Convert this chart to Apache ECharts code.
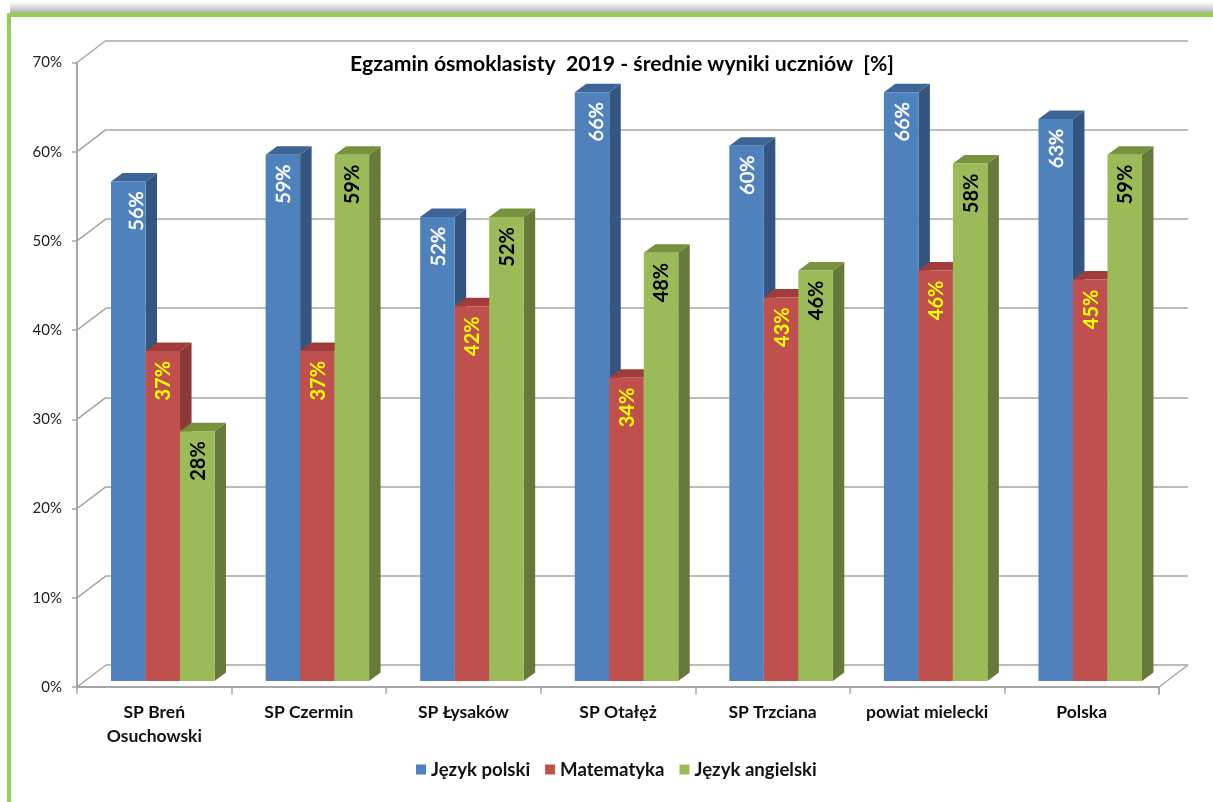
<!DOCTYPE html>
<html><head><meta charset="utf-8">
<script src="https://cdn.jsdelivr.net/npm/echarts@6/dist/echarts.min.js"></script>
<style>html,body{margin:0;padding:0;background:#fff}#c{width:1213px;height:802px}</style>
</head><body><div id="c"></div>
<script>
const categories = ['SP Breń\nOsuchowski','SP Czermin','SP Łysaków','SP Otałęż','SP Trzciana','powiat mielecki','Polska'];
const polski = [56,59,52,66,60,66,63];
const matematyka = [37,37,42,34,43,46,45];
const angielski = [28,59,52,48,46,58,59];
const yTicks = [0,10,20,30,40,50,60,70];
const titleText = 'Egzamin ósmoklasisty  2019 - średnie wyniki uczniów  [%]';
const FONT = 'Lato';

const backDX = 29, backDY = 22, barW = 34.5, sideDX = 11.5, sideDY = 8.5;
const faces = [
  {front:'#4f81bd', side:'#34557f', top:'#3c6494', text:'#ffffff', weight:'normal', stroke:0.5},
  {front:'#c0504d', side:'#8c3836', top:'#a03c3a', text:'#ffff00', weight:'bold', stroke:0},
  {front:'#9bbb59', side:'#667a3a', top:'#76923c', text:'#000000', weight:'bold', stroke:0}
];
const labelNudge = {'0-0':7, '0-3':4};

function barRenderer(idx){
  return function(params, api){
    const p = api.coord([api.value(0), api.value(1)]);
    const base = api.coord([api.value(0), 0]);
    const x = p[0] - barW*1.5 + idx*barW, y = p[1], b = base[1], f = faces[idx];
    const nudge = labelNudge[idx+'-'+api.value(0)] || 0;
    return {type:'group', children:[
      {type:'polygon', shape:{points:[[x+barW,y],[x+barW+sideDX,y-sideDY],[x+barW+sideDX,b-sideDY],[x+barW,b]]}, style:{fill:f.side}},
      {type:'polygon', shape:{points:[[x,y],[x+sideDX,y-sideDY],[x+barW+sideDX,y-sideDY],[x+barW,y]]}, style:{fill:f.top}},
      {type:'rect', shape:{x:x,y:y,width:barW,height:b-y}, style:{fill:f.front}},
      {type:'text', x:x+barW/2+1+nudge, y:y+10, rotation:Math.PI/2, z2:5,
       style:{text:api.value(1)+'%', fill:f.text, stroke:f.stroke?f.text:null, lineWidth:f.stroke, font:f.weight+' 20px '+FONT, align:'right', verticalAlign:'middle'}}
    ]};
  };
}
function barSeries(name, data, idx){
  return {type:'custom', name, xAxisIndex:2, yAxisIndex:2, itemStyle:{color:faces[idx].front},
    data:data.map((v,i)=>[i,v]), renderItem:barRenderer(idx), encode:{x:0,y:1}, z:5, clip:false};
}
const grid = (l,t)=>({left:l, top:t, width:1082, height:624.5});
const option = {
  animation:false,
  backgroundColor:'#fff',
  title:{text:titleText, left:617, top:49, textAlign:'center', textStyle:{fontFamily:FONT,fontWeight:'bold',fontSize:21.2,color:'#000'}},
  legend:{bottom:18, itemWidth:10, itemHeight:10, itemGap:15, icon:'rect', selectedMode:false,
    left:411, textStyle:{fontFamily:FONT,fontWeight:'bold',fontSize:18.6,color:'#111'}},
  grid:[grid(77,62.5), grid(77+backDX,62.5-backDY), grid(85.5,56.5)],
  xAxis:[
    {gridIndex:0,type:'category',data:categories,
      axisLine:{show:true,lineStyle:{color:'#a6a6a6',width:2}},
      axisTick:{show:true,length:7,interval:0,alignWithLabel:false,lineStyle:{color:'#a6a6a6',width:1.5}},
      axisLabel:{interval:0,hideOverlap:false,fontFamily:FONT,fontWeight:'bold',fontSize:17.5,color:'#111',margin:13,lineHeight:24,verticalAlign:'top'}},
    {gridIndex:1,type:'category',data:categories,axisLine:{show:false},axisTick:{show:false},axisLabel:{show:false}},
    {gridIndex:2,type:'category',data:categories,axisLine:{show:false},axisTick:{show:false},axisLabel:{show:false}}
  ],
  yAxis:[
    {gridIndex:0,type:'value',min:0,max:70,interval:10,splitLine:{show:false},
      axisLine:{show:true,lineStyle:{color:'#a6a6a6',width:2}},
      axisTick:{show:true,length:5,lineStyle:{color:'#a6a6a6',width:1.5}},
      axisLabel:{formatter:'{value}%',fontFamily:FONT,fontSize:15,color:'#222',margin:15,padding:[4,0,0,0]}},
    {gridIndex:1,type:'value',min:0,max:70,interval:10,axisLine:{show:false},axisTick:{show:false},axisLabel:{show:false},
      splitLine:{show:true,lineStyle:{color:'#a6a6a6',width:1.5}}},
    {gridIndex:2,type:'value',min:0,max:70,interval:10,axisLine:{show:false},axisTick:{show:false},axisLabel:{show:false},splitLine:{show:false}}
  ],
  series:[
    {type:'custom',silent:true,xAxisIndex:0,yAxisIndex:0,z:1,clip:false,data:yTicks.map(v=>[0,v]),encode:{x:0,y:1},
      legendHoverLink:false,
      renderItem(params,api){
        const p=api.coord([0,api.value(1)]), x=params.coordSys.x, st={stroke:'#a6a6a6',lineWidth:1.5};
        const kids=[{type:'line',shape:{x1:x,y1:p[1],x2:x+backDX,y2:p[1]-backDY},style:st}];
        if(api.value(1)===0){const r=x+params.coordSys.width;
          kids.push({type:'line',shape:{x1:r,y1:p[1],x2:r+backDX,y2:p[1]-backDY},style:st});
          kids.push({type:'line',shape:{x1:r,y1:p[1],x2:r,y2:p[1]+8},style:st});}
        return {type:'group',children:kids};
      }},
    barSeries('Język polski',polski,0),
    barSeries('Matematyka',matematyka,1),
    barSeries('Język angielski',angielski,2)
  ],
  graphic:[
    {type:'rect',z:-1,shape:{x:10,y:2,width:1203,height:12},style:{fill:{type:'linear',x:0,y:0,x2:0,y2:1,colorStops:[{offset:0,color:'#ffffff'},{offset:1,color:'#a8a8a8'}]}}},
    {type:'rect',z:-1,shape:{x:7,y:13,width:1206,height:4},style:{fill:'#92d050'}},
    {type:'rect',z:-1,shape:{x:7,y:13,width:4,height:789},style:{fill:'#92d050'}}
  ]
};
const chart = echarts.init(document.getElementById('c'));
chart.setOption(option);
</script></body></html>
